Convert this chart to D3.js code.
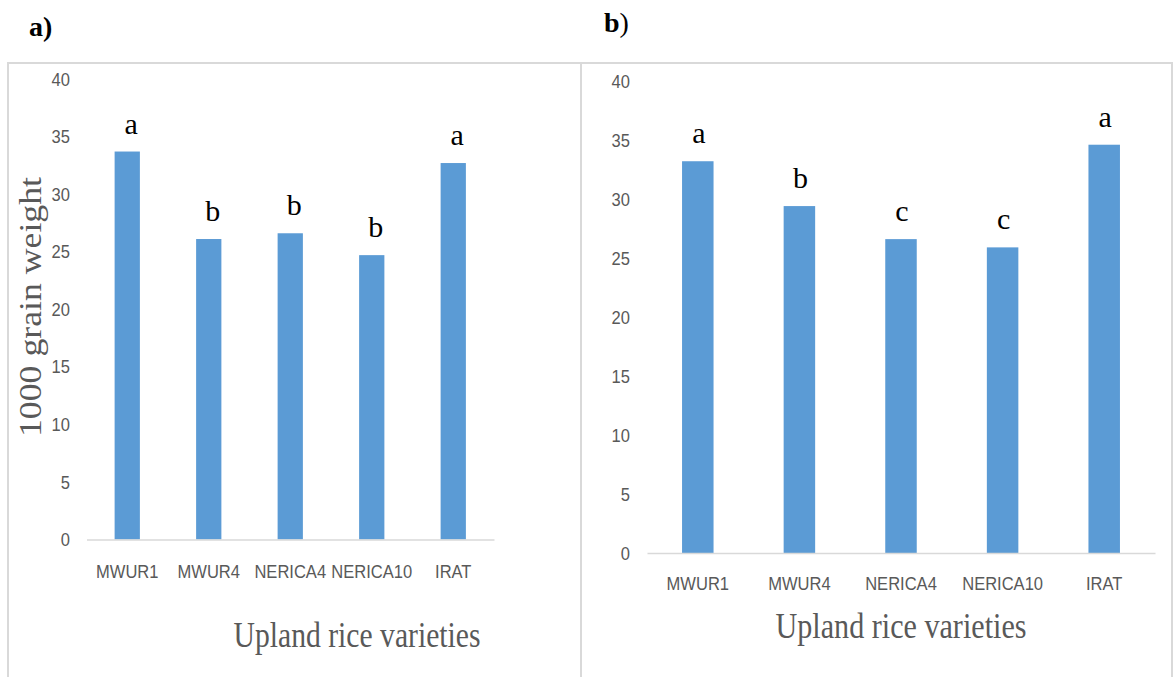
<!DOCTYPE html>
<html>
<head>
<meta charset="utf-8">
<script src="https://cdn.jsdelivr.net/npm/d3@7"></script>
<style>
  body { margin: 0; background: #fff; }
  svg { display: block; }
</style>
</head>
<body>
<div id="container"></div>
<script>
/* CONSTANTS AND GLOBALS */
const width = 1176,
  height = 677;

// data
const varieties = ["MWUR1", "MWUR4", "NERICA4", "NERICA10", "IRAT"];
const weightA = [33.7, 26.1, 26.6, 24.7, 32.7];
const weightB = [33.2, 29.4, 26.6, 25.9, 34.6];
const groupsA = ["a", "b", "b", "b", "a"];
const groupsB = ["a", "b", "c", "c", "a"];
const yTicks = [0, 5, 10, 15, 20, 25, 30, 35, 40];

const barColor = "#5b9bd5",
  gridGray = "#d9d9d9",
  textGray = "#595959",
  serif = "'Liberation Serif', 'Times New Roman', serif",
  sans = "'Liberation Sans', Arial, sans-serif",
  squeeze = 0.87; // the labels in the figure look narrower than Arial

let svg;

// panel layout (frame, plot area, text spots)
const panels = [
  {
    tag: "a", tagBold: "a)", tagRest: "", tagX: 29, tagY: 36,
    frame: {x: 8, y: 63, w: 573},
    x0: 86.5, x1: 494, yTop: 79, yBottom: 539.5,
    tickX: 70, catY: 578, titleX: 357, titleY: 647, titleLen: 247,
    yTitle: true, letterDx: 4,
    values: weightA, groups: groupsA
  },
  {
    tag: "b", tagBold: "b", tagRest: ")", tagX: 604, tagY: 32,
    frame: {x: 581, y: 63, w: 591},
    x0: 647, x1: 1155, yTop: 81, yBottom: 553,
    tickX: 630, catY: 590, titleX: 901, titleY: 638, titleLen: 251,
    yTitle: false, letterDx: 1,
    values: weightB, groups: groupsB
  }
];

// narrow a label set so it matches the condensed look of the original
function narrow(sel) {
  sel.each(function() {
    const len = this.getComputedTextLength();
    d3.select(this)
      .attr("textLength", len * squeeze)
      .attr("lengthAdjust", "spacingAndGlyphs");
  });
}

/* INITIALIZING FUNCTION */
function init() {
  svg = d3.select("#container")
    .append("svg")
    .attr("width", width)
    .attr("height", height);

  panels.forEach(drawPanel);
}

/* DRAW FUNCTION */
function drawPanel(p) {
  const g = svg.append("g").attr("class", "panel-" + p.tag);

  // outer frame (bottom runs off the page)
  g.append("rect")
    .attr("x", p.frame.x)
    .attr("y", p.frame.y)
    .attr("width", p.frame.w)
    .attr("height", 700)
    .attr("fill", "none")
    .attr("stroke", gridGray)
    .attr("stroke-width", 2);

  // panel tag
  const tag = g.append("text")
    .attr("x", p.tagX)
    .attr("y", p.tagY)
    .attr("font-family", serif)
    .attr("font-size", 28)
    .attr("fill", "#000");
  tag.append("tspan").attr("font-weight", "bold").text(p.tagBold);
  tag.append("tspan").text(p.tagRest);

  const data = varieties.map((v, i) => ({name: v, value: p.values[i], group: p.groups[i]}));

  const xScale = d3.scaleBand()
    .domain(varieties)
    .range([p.x0, p.x1])
    .paddingInner(0.69)
    .paddingOuter(0.345);

  const yScale = d3.scaleLinear()
    .domain([0, 40])
    .range([p.yBottom, p.yTop]);

  // y axis: labels only
  const yAxis = d3.axisLeft(yScale)
    .tickValues(yTicks)
    .tickSize(0)
    .tickPadding(0);

  g.append("g")
    .attr("class", "yAxis")
    .attr("transform", `translate(${p.tickX},0)`)
    .call(yAxis)
    .call(sel => sel.select(".domain").remove())
    .selectAll("text")
    .attr("font-family", sans)
    .attr("font-size", 19)
    .attr("fill", textGray)
    .call(narrow);

  // bars
  g.selectAll("rect.bar")
    .data(data)
    .join("rect")
    .attr("class", "bar")
    .attr("x", d => xScale(d.name))
    .attr("width", xScale.bandwidth())
    .attr("y", d => yScale(d.value))
    .attr("height", d => yScale(0) - yScale(d.value))
    .attr("fill", barColor);

  // x axis: baseline and category labels
  const xAxis = d3.axisBottom(xScale)
    .tickSize(0)
    .tickPadding(0);

  const xAxisGroup = g.append("g")
    .attr("class", "xAxis")
    .attr("transform", `translate(0,${yScale(0)})`)
    .call(xAxis);

  xAxisGroup.select(".domain")
    .attr("stroke", gridGray)
    .attr("stroke-width", 1.5);

  xAxisGroup.selectAll("text")
    .attr("y", p.catY - yScale(0))
    .attr("dy", 0)
    .attr("font-family", sans)
    .attr("font-size", 19)
    .attr("fill", textGray)
    .call(narrow);

  // significance letters
  g.selectAll("text.letter")
    .data(data)
    .join("text")
    .attr("class", "letter")
    .attr("x", d => xScale(d.name) + xScale.bandwidth() / 2 + p.letterDx)
    .attr("y", d => yScale(d.value) - 18)
    .attr("text-anchor", "middle")
    .attr("font-family", serif)
    .attr("font-size", 30)
    .attr("fill", "#000")
    .text(d => d.group);

  // x title
  g.append("text")
    .attr("x", p.titleX)
    .attr("y", p.titleY)
    .attr("text-anchor", "middle")
    .attr("font-family", serif)
    .attr("font-size", 36)
    .attr("textLength", p.titleLen)
    .attr("lengthAdjust", "spacingAndGlyphs")
    .attr("fill", textGray)
    .text("Upland rice varieties");

  // y title (only on panel a)
  if (p.yTitle) {
    g.append("text")
      .attr("transform", "translate(41,307) rotate(-90)")
      .attr("text-anchor", "middle")
      .attr("font-family", serif)
      .attr("font-size", 32)
      .attr("textLength", 260)
      .attr("lengthAdjust", "spacingAndGlyphs")
      .attr("fill", textGray)
      .text("1000 grain weight");
  }
}

init();
</script>
</body>
</html>
